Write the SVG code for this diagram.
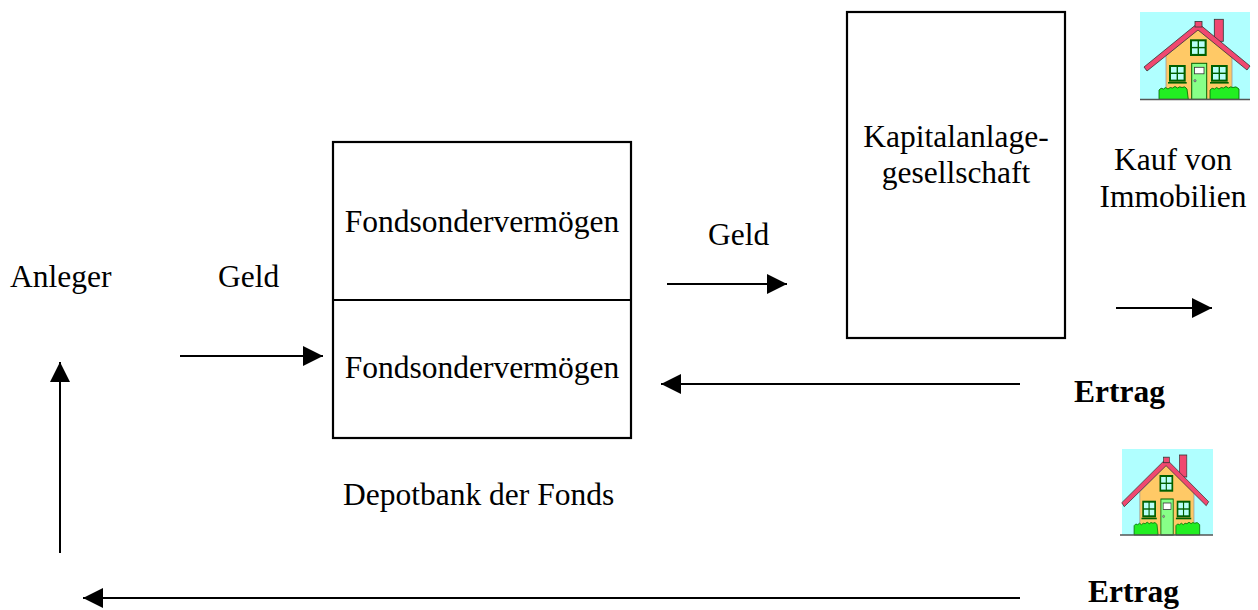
<svg xmlns="http://www.w3.org/2000/svg" xmlns:xlink="http://www.w3.org/1999/xlink" width="1258" height="610" viewBox="0 0 1258 610">
<style>
text{font-family:"Liberation Serif","Times New Roman",serif;font-size:31.5px;fill:#000}
.b{font-weight:bold}
.box{fill:#fff;stroke:#000;stroke-width:2.2}
.conn{stroke:#000;stroke-width:2;fill:none}
.ol{stroke:#333;stroke-width:0.8}
.win{fill:#006000}
.pane{fill:#B8FFF8}
</style>
<defs>
<marker id="ah" markerUnits="userSpaceOnUse" markerWidth="20" markerHeight="20" refX="20" refY="10" orient="auto" viewBox="0 0 20 20">
<path d="M0,0 L20,10 L0,20 z" fill="#000"/>
</marker>
<g id="houseArt">
<rect x="74.3" y="7.3" width="9" height="22" fill="#F04870" class="ol"/>
<polygon points="26,44 58,17 92,44 92,87 26,87" fill="#FFC966" stroke="#999" stroke-width="0.8"/>
<polygon points="4,55 58,11 110,54 107,58 58,18 7,59" fill="#F04870" class="ol"/>
<rect x="55" y="9.5" width="7" height="5.5" fill="#F04870" class="ol"/>
<g>
<rect x="50" y="27.3" width="16.7" height="16.7" class="win"/>
<rect x="52" y="29.3" width="5.6" height="5.6" class="pane"/>
<rect x="59" y="29.3" width="5.6" height="5.6" class="pane"/>
<rect x="52" y="36.3" width="5.6" height="5.6" class="pane"/>
<rect x="59" y="36.3" width="5.6" height="5.6" class="pane"/>
</g>
<g>
<rect x="29" y="53" width="16.7" height="16.7" class="win"/>
<rect x="31" y="55" width="5.6" height="5.6" class="pane"/>
<rect x="38" y="55" width="5.6" height="5.6" class="pane"/>
<rect x="31" y="62" width="5.6" height="5.6" class="pane"/>
<rect x="38" y="62" width="5.6" height="5.6" class="pane"/>
<rect x="28" y="70" width="18.7" height="1.6" class="win"/>
</g>
<g>
<rect x="71" y="53" width="16.7" height="16.7" class="win"/>
<rect x="73" y="55" width="5.6" height="5.6" class="pane"/>
<rect x="80" y="55" width="5.6" height="5.6" class="pane"/>
<rect x="73" y="62" width="5.6" height="5.6" class="pane"/>
<rect x="80" y="62" width="5.6" height="5.6" class="pane"/>
<rect x="70" y="70" width="18.7" height="1.6" class="win"/>
</g>
<rect x="51.7" y="51.3" width="15" height="36" fill="#88FF88" stroke="#006000" stroke-width="1"/>
<rect x="54.5" y="55.3" width="9.5" height="6.5" fill="#fff" stroke="#333" stroke-width="0.8"/>
<circle cx="55" cy="68.7" r="1.2" fill="#999" stroke="#333" stroke-width="0.4"/>
<path d="M19,87.3 L19,78 q2,-3 4.5,-1 q2,-3 4.5,0 q2,-2.5 4.5,-1 q2.5,-3 5,0 q2,-2 4.5,-0.5 q3,-2 5,1.5 L48.3,87.3 z" fill="#22EE22" stroke="#006000" stroke-width="0.8"/>
<path d="M70,87.3 L70,78 q2,-3 4.5,-1 q2,-3 4.5,0 q2,-2.5 4.5,-1 q2.5,-3 5,0 q2,-2 4.5,-0.5 q3,-2 6,1.5 L99,87.3 z" fill="#22EE22" stroke="#006000" stroke-width="0.8"/>
</g>
</defs>
<g id="connectors">
<line class="conn" x1="180" y1="356" x2="323" y2="356" marker-end="url(#ah)"/>
<line class="conn" x1="667" y1="284" x2="787" y2="284" marker-end="url(#ah)"/>
<line class="conn" x1="1116" y1="308" x2="1212" y2="308" marker-end="url(#ah)"/>
<line class="conn" x1="1020" y1="384" x2="661" y2="384" marker-end="url(#ah)"/>
<line class="conn" x1="1020" y1="598" x2="83" y2="598" marker-end="url(#ah)"/>
<line class="conn" x1="60" y1="553" x2="60" y2="362" marker-end="url(#ah)"/>
</g>
<g id="anleger"><text x="10" y="287">Anleger</text></g>
<g id="label-geld-1"><text x="218" y="287">Geld</text></g>
<g id="depotbank">
<rect class="box" x="333" y="142" width="298" height="296"/>
<line x1="333" y1="300" x2="631" y2="300" stroke="#000" stroke-width="2.2"/>
<text x="482" y="232" text-anchor="middle">Fondsondervermögen</text>
<text x="482" y="378" text-anchor="middle">Fondsondervermögen</text>
</g>
<g id="label-depotbank"><text x="343" y="505">Depotbank der Fonds</text></g>
<g id="label-geld-2"><text x="708" y="245">Geld</text></g>
<g id="kag">
<rect class="box" x="847" y="12" width="218" height="326"/>
<text x="956" y="147" text-anchor="middle">Kapitalanlage-</text>
<text x="956" y="183" text-anchor="middle">gesellschaft</text>
</g>
<g id="label-kauf">
<text x="1173" y="170" text-anchor="middle">Kauf von</text>
<text x="1173" y="207" text-anchor="middle">Immobilien</text>
</g>
<g id="label-ertrag-1"><text class="b" x="1074" y="402">Ertrag</text></g>
<g id="label-ertrag-2"><text class="b" x="1088" y="602">Ertrag</text></g>
<g id="house-1">
<rect x="1140" y="12" width="110" height="88" fill="#B0FFFF"/>
<use xlink:href="#houseArt" href="#houseArt" transform="translate(1140,12)"/>
<line x1="1140" y1="99.5" x2="1250" y2="99.5" stroke="#555" stroke-width="1.5"/>
</g>
<g id="house-2">
<rect x="1122" y="449" width="91" height="86" fill="#B0FFFF"/>
<use xlink:href="#houseArt" href="#houseArt" transform="translate(1118.5,447.7) scale(0.82,1)"/>
<line x1="1120" y1="535" x2="1213" y2="535" stroke="#555" stroke-width="1.5"/>
</g>
</svg>
